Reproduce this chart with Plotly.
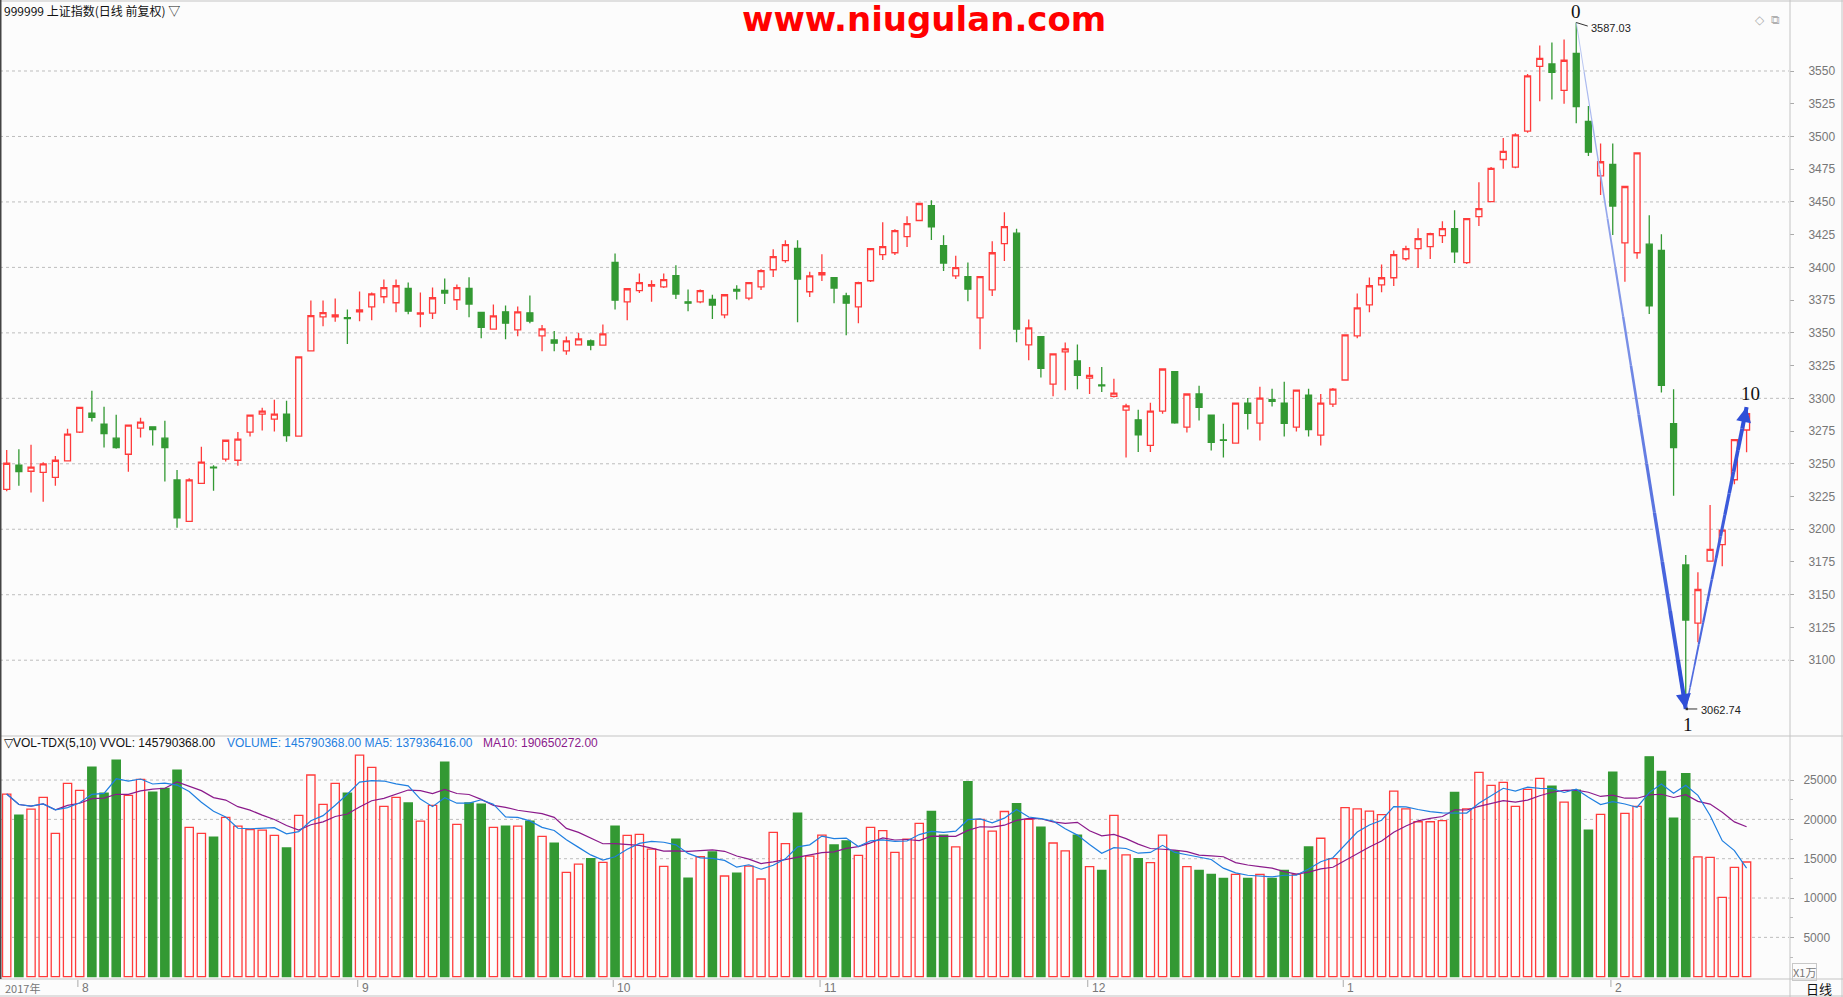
import numpy as np
import plotly.graph_objects as go

# ---------------- data ----------------
DATES = [
    "2017-07-24", "2017-07-25", "2017-07-26", "2017-07-27", "2017-07-28", "2017-07-31",
    "2017-08-01", "2017-08-02", "2017-08-03", "2017-08-04", "2017-08-07", "2017-08-08",
    "2017-08-09", "2017-08-10", "2017-08-11", "2017-08-14", "2017-08-15", "2017-08-16",
    "2017-08-17", "2017-08-18", "2017-08-21", "2017-08-22", "2017-08-23", "2017-08-24",
    "2017-08-25", "2017-08-28", "2017-08-29", "2017-08-30", "2017-08-31",
    "2017-09-01", "2017-09-04", "2017-09-05", "2017-09-06", "2017-09-07", "2017-09-08",
    "2017-09-11", "2017-09-12", "2017-09-13", "2017-09-14", "2017-09-15", "2017-09-18",
    "2017-09-19", "2017-09-20", "2017-09-21", "2017-09-22", "2017-09-25", "2017-09-26",
    "2017-09-27", "2017-09-28", "2017-09-29",
    "2017-10-09", "2017-10-10", "2017-10-11", "2017-10-12", "2017-10-13", "2017-10-16",
    "2017-10-17", "2017-10-18", "2017-10-19", "2017-10-20", "2017-10-23", "2017-10-24",
    "2017-10-25", "2017-10-26", "2017-10-27", "2017-10-30", "2017-10-31",
    "2017-11-01", "2017-11-02", "2017-11-03", "2017-11-06", "2017-11-07", "2017-11-08",
    "2017-11-09", "2017-11-10", "2017-11-13", "2017-11-14", "2017-11-15", "2017-11-16",
    "2017-11-17", "2017-11-20", "2017-11-21", "2017-11-22", "2017-11-23", "2017-11-24",
    "2017-11-27", "2017-11-28", "2017-11-29", "2017-11-30",
    "2017-12-01", "2017-12-04", "2017-12-05", "2017-12-06", "2017-12-07", "2017-12-08",
    "2017-12-11", "2017-12-12", "2017-12-13", "2017-12-14", "2017-12-15", "2017-12-18",
    "2017-12-19", "2017-12-20", "2017-12-21", "2017-12-22", "2017-12-25", "2017-12-26",
    "2017-12-27", "2017-12-28", "2017-12-29",
    "2018-01-02", "2018-01-03", "2018-01-04", "2018-01-05", "2018-01-08", "2018-01-09",
    "2018-01-10", "2018-01-11", "2018-01-12", "2018-01-15", "2018-01-16", "2018-01-17",
    "2018-01-18", "2018-01-19", "2018-01-22", "2018-01-23", "2018-01-24", "2018-01-25",
    "2018-01-26", "2018-01-29", "2018-01-30", "2018-01-31",
    "2018-02-01", "2018-02-02", "2018-02-05", "2018-02-06", "2018-02-07", "2018-02-08",
    "2018-02-09", "2018-02-12", "2018-02-13", "2018-02-14", "2018-02-22", "2018-02-23",
]

OPEN = [
    3230.5, 3248.9, 3244.3, 3243.5, 3239.7, 3252.2, 3274.2, 3288.7, 3280.3, 3269.6,
    3257.3, 3277.2, 3278.2, 3269.6, 3237.7, 3206.0, 3235.1, 3247.5, 3253.5, 3252.7,
    3274.2, 3288.0, 3284.1, 3288.0, 3271.1, 3336.2, 3362.2, 3362.2, 3361.6, 3366.0,
    3369.9, 3377.6, 3373.0, 3384.0, 3364.3, 3365.1, 3382.4, 3375.3, 3384.0, 3365.6,
    3352.8, 3366.1, 3352.3, 3365.3, 3347.7, 3344.6, 3336.2, 3340.8, 3343.9, 3340.6,
    3403.9, 3373.7, 3382.2, 3385.7, 3385.2, 3393.7, 3373.7, 3373.7, 3375.5, 3363.8,
    3383.2, 3376.5, 3385.2, 3398.2, 3405.1, 3414.6, 3381.4, 3394.4, 3392.1, 3378.3,
    3369.9, 3389.8, 3409.7, 3411.2, 3423.5, 3435.8, 3447.2, 3416.6, 3393.6, 3392.9,
    3361.5, 3382.9, 3418.1, 3426.1, 3340.8, 3347.2, 3310.9, 3335.5, 3328.6, 3315.5,
    3310.2, 3301.5, 3291.0, 3283.6, 3264.0, 3290.3, 3320.4, 3278.0, 3303.3, 3287.2,
    3268.3, 3265.8, 3296.4, 3281.1, 3299.0, 3296.4, 3278.0, 3302.5, 3271.9, 3295.6,
    3314.0, 3347.7, 3371.4, 3386.7, 3392.1, 3406.6, 3414.3, 3415.8, 3424.2, 3429.6,
    3403.6, 3438.8, 3450.3, 3482.4, 3476.6, 3504.1, 3553.6, 3555.4, 3535.2, 3563.4,
    3511.5, 3469.9, 3478.7, 3418.8, 3411.2, 3417.7, 3413.0, 3280.7, 3172.7, 3128.3,
    3175.6, 3188.2, 3237.8, 3275.8,
]
HIGH = [
    3260.6, 3261.1, 3264.5, 3251.2, 3256.0, 3276.7, 3293.5, 3305.8, 3293.6, 3287.4,
    3279.8, 3285.1, 3278.6, 3282.8, 3245.3, 3238.9, 3263.0, 3248.9, 3268.3, 3274.2,
    3287.5, 3292.8, 3298.9, 3298.2, 3331.9, 3374.7, 3374.7, 3376.3, 3367.8, 3381.6,
    3380.8, 3390.8, 3390.8, 3388.5, 3380.9, 3384.7, 3391.6, 3387.0, 3392.4, 3366.0,
    3371.7, 3370.9, 3370.2, 3378.6, 3356.1, 3351.5, 3347.2, 3349.8, 3344.9, 3356.4,
    3410.7, 3384.0, 3395.4, 3390.1, 3395.4, 3401.6, 3383.2, 3383.2, 3379.1, 3379.4,
    3386.3, 3388.6, 3398.5, 3413.8, 3420.7, 3420.7, 3396.7, 3410.0, 3392.4, 3380.6,
    3389.0, 3414.8, 3434.5, 3429.1, 3439.1, 3449.1, 3451.3, 3424.5, 3408.9, 3403.8,
    3393.2, 3419.9, 3442.1, 3429.6, 3360.2, 3347.5, 3334.2, 3342.6, 3341.1, 3324.0,
    3324.0, 3315.0, 3295.9, 3291.3, 3296.6, 3322.7, 3320.7, 3303.6, 3309.7, 3287.5,
    3280.6, 3296.7, 3300.2, 3308.9, 3307.4, 3312.7, 3306.6, 3307.4, 3303.3, 3307.9,
    3348.8, 3380.1, 3392.3, 3402.3, 3413.0, 3416.6, 3429.9, 3426.5, 3435.2, 3443.6,
    3437.6, 3465.1, 3476.6, 3498.8, 3502.5, 3547.7, 3569.4, 3571.8, 3574.1, 3587.03,
    3523.3, 3494.7, 3494.7, 3462.1, 3487.7, 3439.9, 3425.3, 3307.0, 3180.3, 3167.2,
    3218.5, 3199.6, 3268.8, 3293.3,
]
LOW = [
    3229.0, 3233.3, 3228.0, 3221.1, 3233.3, 3251.7, 3273.5, 3282.3, 3262.4, 3261.4,
    3244.0, 3270.1, 3264.0, 3236.4, 3201.2, 3205.5, 3234.8, 3229.5, 3251.7, 3248.6,
    3270.8, 3275.4, 3274.7, 3266.8, 3270.8, 3335.9, 3355.1, 3358.4, 3341.5, 3358.9,
    3359.7, 3372.7, 3365.8, 3364.3, 3354.3, 3360.5, 3372.0, 3367.4, 3362.0, 3345.9,
    3352.5, 3345.2, 3347.5, 3357.4, 3336.0, 3336.0, 3333.2, 3340.5, 3336.8, 3340.3,
    3367.9, 3359.7, 3380.4, 3373.7, 3384.2, 3375.8, 3366.6, 3372.7, 3360.5, 3361.2,
    3375.5, 3374.9, 3382.7, 3392.6, 3403.6, 3358.2, 3377.3, 3389.6, 3372.7, 3348.2,
    3357.4, 3388.8, 3405.6, 3409.5, 3415.6, 3435.5, 3420.9, 3397.2, 3391.1, 3374.2,
    3337.5, 3378.1, 3404.9, 3342.8, 3329.1, 3316.0, 3301.5, 3306.1, 3306.9, 3303.3,
    3304.8, 3300.7, 3254.8, 3259.1, 3259.1, 3288.2, 3280.6, 3273.9, 3283.1, 3260.1,
    3254.8, 3265.5, 3276.2, 3267.8, 3293.8, 3270.9, 3274.7, 3270.9, 3264.0, 3293.3,
    3313.7, 3345.9, 3365.8, 3381.1, 3385.7, 3405.1, 3399.5, 3406.4, 3418.6, 3403.3,
    3402.6, 3431.7, 3450.0, 3475.3, 3475.8, 3502.8, 3526.9, 3528.2, 3524.9, 3510.0,
    3485.1, 3455.3, 3424.7, 3389.0, 3406.6, 3364.5, 3304.4, 3225.5, 3062.74, 3113.7,
    3175.3, 3171.8, 3234.3, 3258.8,
]
CLOSE = [
    3250.4, 3244.0, 3247.4, 3249.9, 3252.7, 3272.6, 3293.1, 3285.4, 3273.1, 3262.4,
    3279.5, 3281.8, 3276.2, 3262.4, 3208.8, 3237.7, 3251.2, 3246.9, 3268.0, 3268.8,
    3287.2, 3290.2, 3288.0, 3271.6, 3331.6, 3363.2, 3365.5, 3363.7, 3360.9, 3367.6,
    3379.8, 3384.5, 3386.0, 3366.6, 3365.3, 3376.8, 3380.4, 3384.5, 3372.0, 3354.3,
    3363.0, 3357.4, 3366.1, 3358.9, 3353.1, 3342.1, 3343.9, 3345.4, 3340.6, 3349.3,
    3375.0, 3383.7, 3388.3, 3386.8, 3390.6, 3379.6, 3372.7, 3382.2, 3371.2, 3379.1,
    3381.9, 3388.3, 3397.5, 3408.2, 3417.4, 3391.1, 3393.6, 3395.9, 3384.2, 3372.7,
    3388.3, 3414.3, 3415.8, 3428.1, 3433.5, 3448.8, 3430.9, 3403.3, 3399.8, 3383.4,
    3392.9, 3411.2, 3431.2, 3352.8, 3353.8, 3322.9, 3333.9, 3337.7, 3317.6, 3317.6,
    3309.6, 3304.0, 3294.3, 3272.1, 3290.3, 3322.4, 3281.3, 3303.3, 3293.1, 3266.3,
    3267.9, 3296.4, 3288.5, 3300.2, 3297.6, 3280.8, 3306.3, 3276.2, 3296.4, 3307.1,
    3348.5, 3369.1, 3386.0, 3392.1, 3409.7, 3414.3, 3421.9, 3425.8, 3429.6, 3411.8,
    3437.3, 3444.9, 3475.6, 3488.6, 3501.2, 3546.3, 3559.7, 3549.0, 3558.2, 3522.8,
    3488.0, 3480.7, 3446.9, 3461.8, 3487.4, 3370.7, 3309.9, 3262.3, 3130.7, 3154.0,
    3184.7, 3199.3, 3268.5, 3288.3,
]
# volume in units of 10,000 shares (X1万)
VOLUME = [
    23220, 20550, 21310, 22800, 18220, 24580, 23690, 26650, 23350, 27540,
    23050, 25080, 23470, 23940, 26270, 18980, 18220, 17750, 20250, 19150,
    18690, 18640, 17970, 16360, 20510, 25640, 21910, 24580, 23350, 28180,
    26610, 21650, 22800, 22080, 19790, 21780, 27290, 19360, 22080, 21950,
    18980, 19150, 19150, 19790, 17840, 16990, 13260, 14320, 15000, 14530,
    19150, 17970, 18090, 16230, 14030, 17500, 12540, 15250, 15850, 12800,
    13180, 14070, 12420, 18350, 16910, 20800, 15340, 18010, 16740, 17250,
    15420, 18980, 18560, 15800, 17500, 19500, 21000, 18000, 16500, 24800,
    20000, 18500, 21000, 22000, 20000, 19000, 17000, 16000, 18000, 14000,
    13500, 20500, 15500, 15000, 14500, 18000, 16000, 14000, 13500, 13000,
    12500, 13000, 12500, 13000, 12500, 13500, 13000, 16500, 17600, 15000,
    21490, 21340, 21040, 20600, 23580, 21340, 19700, 19700, 19850, 23430,
    21340, 25970, 24330, 24700, 21650, 23810, 25210, 24240, 22200, 23730,
    18640, 20640, 26020, 20760, 21650, 27950, 26100, 20170, 25800, 15240,
    15170, 10080, 13900, 14579.0368,
]

PRICE_TICKS = list(range(3100, 3551, 25))
PRICE_GRID = list(range(3100, 3551, 50))
VOL_TICKS = [5000, 10000, 15000, 20000, 25000]

TITLE = "www.niugulan.com"
HEAD_LEFT = "999999 上证指数(日线 前复权) ▽"
VOL_HEAD_1 = "▽VOL-TDX(5,10) VVOL: 145790368.00"
VOL_HEAD_2 = "VOLUME: 145790368.00 MA5: 137936416.00"
VOL_HEAD_3 = "MA10: 190650272.00"

# ---------------- styling ----------------
W, H = 1843, 997
ML, MR, MT, MB = 0, 54, 2, 19
PW = W - ML - MR          # plot width in px
PH = H - MT - MB          # plot height in px
BG = "#fcfcfc"
RED = "#ff3b3b"
GREEN = "#339933"
AXC = "#c4c4c4"
LBL = "#777777"
SPLIT_PX = 736            # pane separator (px from top)
VOL_TOP = (H - MB - SPLIT_PX) / PH


def px(xp):
    return (xp - ML) / PW


def py(yp):
    return (H - MB - yp) / PH


n = len(DATES)
x = np.arange(n)
o = np.array(OPEN); h = np.array(HIGH); l = np.array(LOW); c = np.array(CLOSE)
v = np.array(VOLUME, dtype=float)
up = c >= o

fig = go.Figure()

fig.add_trace(go.Candlestick(
    x=x, open=o, high=h, low=l, close=c, text=DATES, hoverinfo="text+y",
    increasing=dict(line=dict(color=RED, width=1.3), fillcolor=BG),
    decreasing=dict(line=dict(color=GREEN, width=1.3), fillcolor=GREEN),
    whiskerwidth=0, xaxis="x", yaxis="y", showlegend=False,
))

# volume bars
fig.add_trace(go.Bar(
    x=x[up], y=v[up], width=0.68, yaxis="y2", xaxis="x",
    marker=dict(color=BG, line=dict(color=RED, width=1.3)), showlegend=False,
))
fig.add_trace(go.Bar(
    x=x[~up], y=v[~up], width=0.68, yaxis="y2", xaxis="x",
    marker=dict(color=GREEN, line=dict(color=GREEN, width=1.3)), showlegend=False,
))

ma5 = np.array([v[max(0, i - 4):i + 1].mean() for i in range(n)])
ma10 = np.array([v[max(0, i - 9):i + 1].mean() for i in range(n)])
fig.add_trace(go.Scatter(x=x, y=ma10, mode="lines", yaxis="y2", xaxis="x",
                         line=dict(color="#8b1a8b", width=1.2), showlegend=False))
fig.add_trace(go.Scatter(x=x, y=ma5, mode="lines", yaxis="y2", xaxis="x",
                         line=dict(color="#1f7fe0", width=1.2), showlegend=False))

# ---------------- wave lines (tapered) ----------------
i_pk = int(np.argmax(h)); i_lo = int(np.argmin(l)); i_end = n - 1
pk_v = h[i_pk]; lo_v = l[i_lo]; end_v = h[i_end]


def hexmix(a, b, t):
    a = [int(a[k:k + 2], 16) for k in (1, 3, 5)]
    b = [int(b[k:k + 2], 16) for k in (1, 3, 5)]
    return "#%02x%02x%02x" % tuple(int(round(a[k] + (b[k] - a[k]) * t)) for k in range(3))


def tapered(x0, y0, x1, y1, w0, w1, c0, c1, nseg=14):
    for k in range(nseg):
        t0, t1 = k / nseg, (k + 1) / nseg
        tm = (k + 0.5) / nseg
        fig.add_trace(go.Scatter(
            x=[x0 + (x1 - x0) * t0, x0 + (x1 - x0) * t1],
            y=[y0 + (y1 - y0) * t0, y0 + (y1 - y0) * t1],
            mode="lines", line=dict(color=hexmix(c0, c1, tm), width=w0 + (w1 - w0) * tm),
            hoverinfo="skip", showlegend=False, xaxis="x", yaxis="y"))


tapered(i_pk, pk_v, i_lo, lo_v, 0.8, 4.2, "#b9c6f2", "#2f4fd8")
tapered(i_lo, lo_v, i_end, end_v, 1.4, 4.2, "#5570e0", "#2f4fd8")

ann = []
# arrow heads
for (xa, ya, xb, yb) in [(i_pk, pk_v, i_lo, lo_v), (i_lo, lo_v, i_end, end_v)]:
    ann.append(dict(x=xb, y=yb, ax=xb - (xb - xa) * 0.06, ay=yb - (yb - ya) * 0.06,
                    xref="x", yref="y", axref="x", ayref="y", text="", showarrow=True,
                    arrowhead=2, arrowsize=1.0, arrowwidth=3, arrowcolor="#2f4fd8", standoff=0))

SERIF = "Liberation Serif"
ann += [
    dict(x=i_pk, y=pk_v, xref="x", yref="y", text="0", showarrow=False, yshift=11,
         font=dict(family=SERIF, size=19, color="#111")),
    dict(x=i_lo, y=lo_v, xref="x", yref="y", text="1", showarrow=False, yshift=-16, xshift=2,
         font=dict(family=SERIF, size=19, color="#111")),
    dict(x=i_end, y=end_v, xref="x", yref="y", text="10", showarrow=False, yshift=14, xshift=4,
         font=dict(family=SERIF, size=19, color="#111")),
    # value labels with small leaders
    dict(x=i_pk, y=pk_v, xref="x", yref="y", text="", showarrow=True, ax=13, ay=4,
         arrowhead=0, arrowwidth=1, arrowcolor="#333", standoff=0),
    dict(x=i_pk, y=pk_v, xref="x", yref="y", text="3587.03", showarrow=False, xanchor="left",
         xshift=13, yshift=-5, font=dict(size=11, color="#222")),
    dict(x=i_lo, y=lo_v, xref="x", yref="y", text="", showarrow=True, ax=13, ay=0,
         arrowhead=7, arrowsize=0.6, arrowwidth=1, arrowcolor="#333", standoff=1),
    dict(x=i_lo, y=lo_v, xref="x", yref="y", text="3062.74", showarrow=False, xanchor="left",
         xshift=13, yshift=-1, font=dict(size=11, color="#222")),
]

# header texts
ann += [
    dict(x=px(2), y=py(11), xref="paper", yref="paper", text=HEAD_LEFT, showarrow=False,
         xanchor="left", yanchor="middle", font=dict(family="Noto Sans CJK SC", size=12, color="#111")),
    dict(x=px(924), y=py(19), xref="paper", yref="paper", text="<b>%s</b>" % TITLE, showarrow=False,
         xanchor="center", yanchor="middle", font=dict(family="DejaVu Sans", size=34, color="#ff0000")),
    dict(x=px(1767), y=py(11), xref="paper", yref="paper", text="◇", showarrow=False,
         font=dict(size=12, color="#b0b0b0")),
    dict(x=px(1782), y=py(11), xref="paper", yref="paper", text="⧉", showarrow=False,
         font=dict(size=12, color="#b0b0b0")),
    dict(x=px(2), y=py(743), xref="paper", yref="paper", text=VOL_HEAD_1, showarrow=False,
         xanchor="left", yanchor="middle", font=dict(size=12, color="#111")),
    dict(x=px(225), y=py(743), xref="paper", yref="paper", text=VOL_HEAD_2, showarrow=False,
         xanchor="left", yanchor="middle", font=dict(size=12, color="#1f7fe0")),
    dict(x=px(481), y=py(743), xref="paper", yref="paper", text=VOL_HEAD_3, showarrow=False,
         xanchor="left", yanchor="middle", font=dict(size=12, color="#8b1a8b")),
    dict(x=px(1792), y=py(972), xref="paper", yref="paper", text="X1万", showarrow=False,
         xanchor="left", yanchor="middle", bordercolor="#c8c8c8", borderwidth=1, borderpad=0,
         font=dict(family="Noto Sans CJK SC", size=11, color="#777")),
    dict(x=px(1804), y=py(988), xref="paper", yref="paper", text="日线", showarrow=False,
         xanchor="left", yanchor="middle", font=dict(family="Noto Sans CJK SC", size=13, color="#111")),
    dict(x=px(3), y=py(988), xref="paper", yref="paper", text="2017年", showarrow=False,
         xanchor="left", yanchor="middle", font=dict(family="Noto Sans CJK SC", size=11, color=LBL)),
]

# month labels at the first trading day of each month
month_starts = [i for i in range(1, n) if DATES[i][5:7] != DATES[i - 1][5:7]]
for i in month_starts:
    ann.append(dict(x=i, y=py(988), xref="x", yref="paper", text=str(int(DATES[i][5:7])),
                    showarrow=False, xanchor="left", yanchor="middle", xshift=0,
                    font=dict(size=12, color=LBL)))

# ---------------- shapes: grids and frame ----------------
shapes = []
for g in PRICE_GRID:
    shapes.append(dict(type="line", xref="paper", yref="y", x0=0, x1=1, y0=g, y1=g,
                       line=dict(color="#bdbdbd", width=1, dash="dot"), layer="below"))
for g in VOL_TICKS:
    shapes.append(dict(type="line", xref="paper", yref="y2", x0=0, x1=1, y0=g, y1=g,
                       line=dict(color="#bdbdbd", width=1, dash="dot"), layer="below"))
XR = W / PW
for yy in (1, SPLIT_PX, 979, 996):
    shapes.append(dict(type="line", xref="paper", yref="paper", x0=0, x1=XR, y0=py(yy), y1=py(yy),
                       line=dict(color=AXC, width=1)))
shapes.append(dict(type="line", xref="paper", yref="paper", x0=px(1790), x1=px(1790),
                   y0=py(0), y1=py(997), line=dict(color=AXC, width=1)))
shapes.append(dict(type="line", xref="paper", yref="paper", x0=px(0.5), x1=px(0.5),
                   y0=py(0), y1=py(979), line=dict(color="#444", width=2)))
shapes.append(dict(type="line", xref="paper", yref="paper", x0=px(1842), x1=px(1842),
                   y0=py(0), y1=py(997), line=dict(color=AXC, width=1)))
for i in month_starts:
    shapes.append(dict(type="line", xref="x", yref="paper", x0=i - 0.15, x1=i - 0.15,
                       y0=py(980), y1=py(987), line=dict(color="#aaa", width=1)))

x_lo = -6.7 / 12.167
x_hi = x_lo + PW / 12.167

fig.update_layout(
    width=W, height=H, margin=dict(l=ML, r=MR, t=MT, b=MB),
    paper_bgcolor=BG, plot_bgcolor=BG, showlegend=False, barmode="overlay",
    font=dict(family="Liberation Sans", size=12, color="#333"),
    annotations=ann, shapes=shapes, hovermode="closest",
    xaxis=dict(range=[x_lo, x_hi], domain=[0, 1], anchor="y2", showgrid=False, zeroline=False,
               showticklabels=False, ticks="", showline=False, rangeslider=dict(visible=False),
               fixedrange=True),
    yaxis=dict(domain=[VOL_TOP, 1], range=[3042.1, 3602.7], side="right", anchor="x",
               tickvals=PRICE_TICKS, ticks="outside", ticklen=4, tickcolor="#aaa",
               tickfont=dict(color=LBL, size=12), showgrid=False, zeroline=False,
               showline=False, ticklabelstandoff=12, fixedrange=True, tickformat="d"),
    yaxis2=dict(domain=[0, VOL_TOP], range=[-165, 30600], side="right", anchor="x",
                tickvals=VOL_TICKS, ticks="outside", ticklen=4, tickcolor="#aaa",
                tickfont=dict(color=LBL, size=12), showgrid=False, zeroline=False,
                showline=False, ticklabelstandoff=7, fixedrange=True, tickformat="d",
                minor=dict(tickvals=[2500, 7500, 12500, 17500, 22500], ticks="outside",
                           ticklen=3, tickcolor="#bbb")),
)

fig.write_html("out.html", config={"displayModeBar": False},
               post_script="document.body.style.margin='0px';document.body.style.overflow='hidden';")
